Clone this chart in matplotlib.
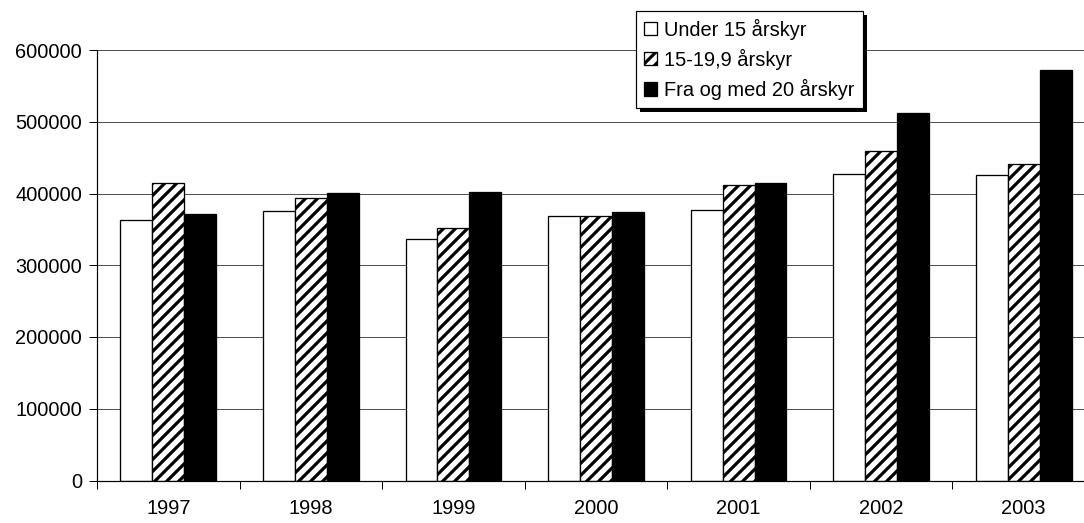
import matplotlib.pyplot as plt
import numpy as np
from matplotlib.patches import Rectangle

years = ['1997', '1998', '1999', '2000', '2001', '2002', '2003']
under_15 = [362600, 375200, 336200, 368600, 377000, 427600, 425800]
mid_15_19 = [414200, 393300, 352300, 368600, 412300, 459200, 440500]
from_20 = [371400, 400300, 402100, 373800, 414600, 512600, 571800]
labels = ['Under 15 årskyr', '15-19,9 årskyr', 'Fra og med 20 årskyr']

plt.rcParams['font.family'] = ['Liberation Sans', 'DejaVu Sans']
plt.rcParams['hatch.linewidth'] = 3.2

# dpi 72 so that 1 pt == 1 px
fig = plt.figure(figsize=(1084 / 72, 523 / 72), dpi=72)
ax = fig.add_axes([97 / 1084, 1 - 480.5 / 523, 998 / 1084, 430.5 / 523])

x = np.arange(len(years))
w = 0.224
ax.bar(x - w, under_15, w, color='white', edgecolor='black', linewidth=1.3, label=labels[0], zorder=2)
ax.bar(x, mid_15_19, w, color='white', edgecolor='black', hatch='//', linewidth=1.3, label=labels[1], zorder=2)
ax.bar(x + w, from_20, w, color='black', edgecolor='black', linewidth=1.3, label=labels[2], zorder=2)

ax.set_xlim(-0.5, len(years) - 0.5)
ax.set_ylim(0, 600000)
ax.set_yticks(np.arange(0, 600001, 100000))
ax.yaxis.grid(True, color='#505050', linewidth=1, zorder=0)
ax.set_axisbelow(True)

ax.set_xticks(np.arange(-0.5, len(years), 1))
ax.set_xticklabels([])
ax.set_xticks(x, minor=True)
ax.set_xticklabels(years, minor=True)
ax.tick_params(axis='x', which='minor', length=0, pad=18, labelsize=20)
ax.tick_params(axis='x', which='major', length=8, width=1, direction='out')
ax.tick_params(axis='y', length=8, width=1, direction='out', pad=7, labelsize=20)

for s in ['top', 'right']:
    ax.spines[s].set_visible(False)
ax.spines['left'].set_linewidth(1.2)
ax.spines['bottom'].set_linewidth(1.2)

leg = ax.legend(loc='upper left', bbox_to_anchor=(636 / 1084, 1 - 10.7 / 523),
                bbox_transform=fig.transFigure, fontsize=20, frameon=True,
                fancybox=False, edgecolor='black', framealpha=1,
                handlelength=0.65, handleheight=0.65, handletextpad=0.35,
                labelspacing=0.45, borderpad=0.4, borderaxespad=0)
leg.get_frame().set_linewidth(1.2)
leg.set_zorder(6)

fig.canvas.draw()
bb = leg.get_window_extent()
shadow = Rectangle((bb.x0 + 4, bb.y0 - 4), bb.width, bb.height, transform=None,
                   facecolor='black', edgecolor='none', zorder=5, clip_on=False)
ax.add_artist(shadow)

fig.savefig('out.png', dpi=72)
